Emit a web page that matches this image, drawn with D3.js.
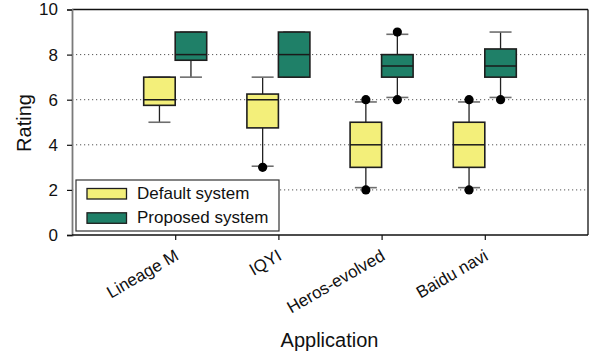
<!DOCTYPE html>
<html>
<head>
<meta charset="utf-8">
<script src="https://cdn.jsdelivr.net/npm/d3@7"></script>
<style>
  html, body { margin: 0; padding: 0; background: #fff; }
  svg { display: block; font-family: "Liberation Sans", Arial, sans-serif; }
</style>
</head>
<body>
<svg id="chart" width="593" height="356"></svg>
<script>
// Applications on the x axis
const apps = ["Lineage M", "IQYI", "Heros-evolved", "Baidu navi"];
const seriesNames = ["Default system", "Proposed system"];
const yTicks = [0, 2, 4, 6, 8, 10];

// Box summaries per application: [whisker low, Q1, median, Q3, whisker high]
const defaultBoxes = [
  [5, 5.75, 6, 7, 7],
  [3.05, 4.75, 6, 6.25, 7],
  [2.1, 3, 4, 5, 5.9],
  [2.1, 3, 4, 5, 5.9]
];
const proposedBoxes = [
  [7, 7.75, 8, 9, 9],
  [7, 7, 8, 9, 9],
  [6.1, 7, 7.5, 8, 8.9],
  [6.1, 7, 7.5, 8.25, 9]
];
// Outlying ratings per application
const defaultOutliers = [[], [3], [2, 6], [2, 6]];
const proposedOutliers = [[], [], [6, 9], [6]];

const colors = ["#f3ef7a", "#1f8068"];

const svg = d3.select("#chart");
const plotL = 72, plotR = 588, plotT = 9.5, plotB = 235;

const x = d3.scaleLinear().domain([0, apps.length + 1]).range([plotL, plotR]);
const y = d3.scaleLinear().domain([0, 10]).range([plotB, plotT]);

const boxW = 31.5, capW = 22;

// dotted horizontal grid
svg.append("g").selectAll("line")
  .data(yTicks.filter(t => t > 0 && t < 10))
  .join("line")
  .attr("x1", plotL).attr("x2", plotR)
  .attr("y1", d => y(d)).attr("y2", d => y(d))
  .attr("stroke", "#555").attr("stroke-width", 1)
  .attr("stroke-dasharray", "1.2,2.8");

// frame
svg.append("line").attr("x1", plotL).attr("x2", plotR).attr("y1", plotT).attr("y2", plotT)
  .attr("stroke", "#111").attr("stroke-width", 1.3);
svg.append("line").attr("x1", plotR).attr("x2", plotR).attr("y1", plotT).attr("y2", plotB)
  .attr("stroke", "#111").attr("stroke-width", 1.3);

// y axis
const yAxis = d3.axisLeft(y).tickValues(yTicks).tickSize(5).tickPadding(9).tickFormat(d3.format("d"));
const gy = svg.append("g").attr("transform", `translate(${plotL},0)`).call(yAxis);
gy.select(".domain").attr("stroke", "#7a7a7a").attr("stroke-width", 1.8);
gy.selectAll(".tick line").attr("stroke", "#111").attr("stroke-width", 1.2);
gy.selectAll(".tick text").attr("font-size", 17).attr("fill", "#111")
  .attr("font-family", "Liberation Sans, Arial, sans-serif");

// x axis
const xAxis = d3.axisBottom(x).tickValues(d3.range(1, apps.length + 1)).tickSize(5)
  .tickFormat(d => apps[d - 1]);
const gx = svg.append("g").attr("transform", `translate(0,${plotB})`).call(xAxis);
gx.select(".domain").attr("stroke", "#111").attr("stroke-width", 1.3)
  .attr("d", `M${plotL},0H${plotR}`);
gx.selectAll(".tick line").attr("stroke", "#111").attr("stroke-width", 1.2);
gx.selectAll(".tick text")
  .attr("font-size", 17).attr("fill", "#111")
  .attr("font-family", "Liberation Sans, Arial, sans-serif")
  .attr("text-anchor", "end")
  .attr("dy", 0).attr("y", 0)
  .attr("transform", "translate(4,24) rotate(-30)");

// box plots
function drawBoxes(boxes, outliers, color, side) {
  const g = svg.append("g");
  boxes.forEach((b, i) => {
    const cx = x(i + 1) + side * boxW / 2;
    const [lo, q1, med, q3, hi] = b;
    // whiskers
    g.append("line").attr("x1", cx).attr("x2", cx).attr("y1", y(lo)).attr("y2", y(q1))
      .attr("stroke", "#222").attr("stroke-width", 1.3);
    g.append("line").attr("x1", cx).attr("x2", cx).attr("y1", y(q3)).attr("y2", y(hi))
      .attr("stroke", "#222").attr("stroke-width", 1.3);
    [lo, hi].forEach(v => {
      g.append("line").attr("x1", cx - capW / 2).attr("x2", cx + capW / 2)
        .attr("y1", y(v)).attr("y2", y(v))
        .attr("stroke", "#6e6e6e").attr("stroke-width", 1.6);
    });
    // box
    g.append("rect").attr("x", cx - boxW / 2).attr("y", y(q3))
      .attr("width", boxW).attr("height", y(q1) - y(q3))
      .attr("fill", color).attr("stroke", "#1e1e1e").attr("stroke-width", 1.6);
    g.append("line").attr("x1", cx - boxW / 2).attr("x2", cx + boxW / 2)
      .attr("y1", y(med)).attr("y2", y(med))
      .attr("stroke", "#1a1a1a").attr("stroke-width", 1.5);
    // outliers
    outliers[i].forEach(v => {
      g.append("circle").attr("cx", cx).attr("cy", y(v)).attr("r", 4.6).attr("fill", "#000");
    });
  });
}
drawBoxes(defaultBoxes, defaultOutliers, colors[0], -1);
drawBoxes(proposedBoxes, proposedOutliers, colors[1], 1);

// legend
const lg = svg.append("g");
lg.append("rect").attr("x", 76).attr("y", 180).attr("width", 203).attr("height", 51)
  .attr("fill", "#fff").attr("stroke", "#333").attr("stroke-width", 1.2);
seriesNames.forEach((name, i) => {
  const yy = 188.5 + i * 24.3;
  lg.append("rect").attr("x", 87).attr("y", yy).attr("width", 39.5).attr("height", 10.5)
    .attr("fill", colors[i]).attr("stroke", "#1e1e1e").attr("stroke-width", 1.3);
  lg.append("text").attr("x", 137).attr("y", yy + 10.5).attr("font-size", 17)
    .attr("fill", "#111").text(name);
});

// axis titles
svg.append("text").attr("x", 329.5).attr("y", 347).attr("text-anchor", "middle")
  .attr("font-size", 20).attr("fill", "#111").text("Application");
svg.append("text").attr("transform", "translate(30.5,123) rotate(-90)")
  .attr("text-anchor", "middle").attr("font-size", 20).attr("fill", "#111").text("Rating");
</script>
</body>
</html>
